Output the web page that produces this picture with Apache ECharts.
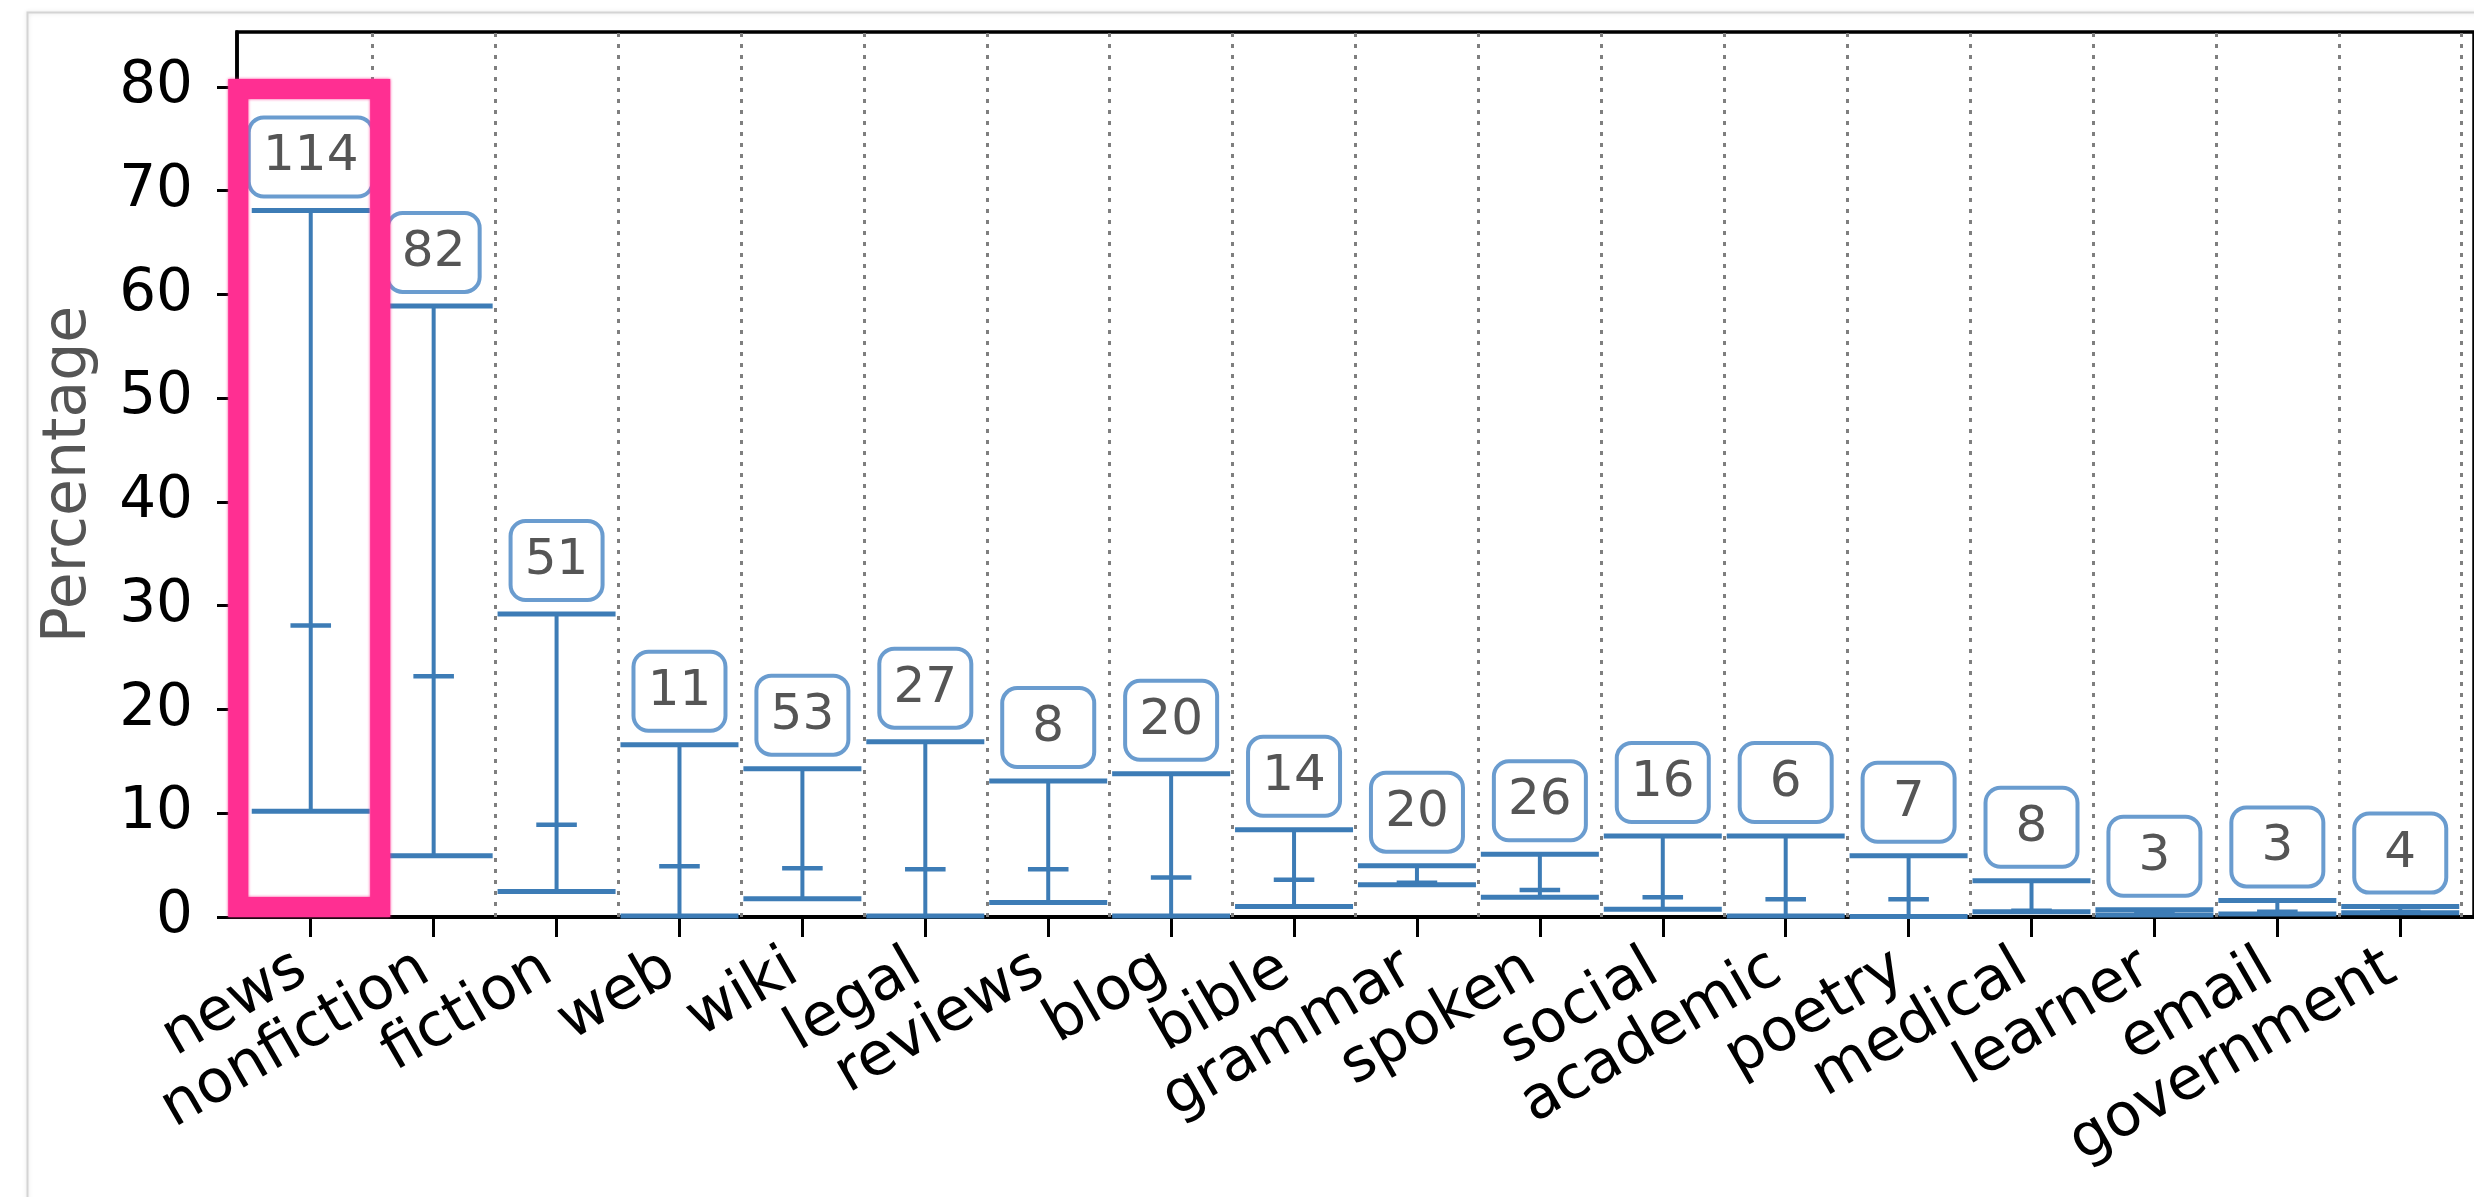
<!DOCTYPE html>
<html>
<head>
<meta charset="utf-8">
<title>Percentage range per genre</title>
<script src="https://cdn.jsdelivr.net/npm/echarts@6/dist/echarts.min.js"></script>
<style>
  html, body { margin: 0; padding: 0; background: #ffffff; }
  #chart { width: 2474px; height: 1197px; }
</style>
</head>
<body>
<div id="chart"></div>
<script>
// Genres along the x axis
const categories = ['news', 'nonfiction', 'fiction', 'web', 'wiki', 'legal', 'reviews', 'blog', 'bible',
  'grammar', 'spoken', 'social', 'academic', 'poetry', 'medical', 'learner', 'email', 'government'];
// Upper extreme, middle value and lower extreme (percent) for each genre
const maxValues = [68.1, 58.9, 29.2, 16.6, 14.3, 16.9, 13.1, 13.8, 8.4, 4.95, 6.05, 7.8, 7.8, 5.9, 3.5, 0.7, 1.6, 1.0];
const midValues = [28.1, 23.2, 8.9, 4.9, 4.7, 4.6, 4.6, 3.8, 3.6, 3.3, 2.6, 1.9, 1.7, 1.7, 0.6, 0.4, 0.5, 0.5];
const minValues = [10.2, 5.9, 2.45, 0.1, 1.75, 0.1, 1.4, 0.1, 1.0, 3.1, 1.9, 0.75, 0.1, 0.05, 0.5, 0.2, 0.3, 0.4];
// Number of samples per genre, shown in the boxes
const counts = [114, 82, 51, 11, 53, 27, 8, 20, 14, 20, 26, 16, 6, 7, 8, 3, 3, 4];
// Y axis tick values
const yTicks = [0, 10, 20, 30, 40, 50, 60, 70, 80];
// Genre that is circled
const highlightedCategory = 'news';

const categoryIndex = categories.map((_, i) => i);
const boundaries = categories.map((_, i) => i + 0.5);
const rows = categories.map((c, i) => [i, maxValues[i], midValues[i], minValues[i], counts[i]]);
const hi = categories.indexOf(highlightedCategory);

const FONT = 'DejaVu Sans';
const RANGE_COLOR = '#3d7cb6';

const chart = echarts.init(document.getElementById('chart'), null, { renderer: 'canvas' });

chart.setOption({
  animation: false,
  backgroundColor: '#ffffff',
  graphic: [{
    type: 'rect',
    left: 25, top: 10,
    shape: { width: 2600, height: 1300 },
    style: { fill: 'none', stroke: '#d4d4d4', lineWidth: 2, shadowBlur: 4, shadowColor: 'rgba(0,0,0,0.12)' },
    silent: true, z: -10
  }],
  grid: {
    left: 237, top: 32, right: -23, bottom: 280,
    show: true, borderColor: '#000', borderWidth: 3.5, backgroundColor: 'transparent'
  },
  xAxis: {
    type: 'value', min: -0.6, max: 17.6,
    axisLine: { show: true, onZero: false, lineStyle: { color: '#000', width: 4 } },
    axisTick: { show: true, customValues: categoryIndex, length: 20, lineStyle: { color: '#000', width: 3 } },
    axisLabel: {
      customValues: categoryIndex,
      formatter: v => categories[Math.round(v)] || '',
      rotate: 30, fontSize: 60, fontFamily: FONT, color: '#000', margin: 43,
      padding: [0, 10, 0, 0]
    },
    splitLine: { show: false }
  },
  yAxis: {
    type: 'value', min: 0, max: 85.3,
    name: 'Percentage', nameLocation: 'middle', nameGap: 138,
    nameTextStyle: { fontSize: 60, color: '#555', fontFamily: FONT },
    axisLine: { show: true, onZero: false, lineStyle: { color: '#000', width: 3.5 } },
    axisTick: { show: true, customValues: yTicks, length: 20, lineStyle: { color: '#000', width: 3 } },
    axisLabel: { customValues: yTicks, fontSize: 58, fontFamily: FONT, color: '#000', margin: 44 },
    splitLine: { show: false }
  },
  series: [
    {
      // dotted separators between genres
      type: 'line', data: [], silent: true,
      markLine: {
        silent: true, symbol: 'none', z: 1,
        label: { show: false },
        lineStyle: { type: [4, 7], color: '#7f7f7f', width: 3 },
        data: boundaries.map(b => ({ xAxis: b }))
      }
    },
    {
      type: 'custom', name: 'range', z: 3,
      data: rows,
      renderItem: function (params, api) {
        const i = api.value(0);
        const top = api.coord([i, api.value(1)]);
        const mid = api.coord([i, api.value(2)]);
        const bot = api.coord([i, api.value(3)]);
        const band = api.size([1, 0])[0];
        const capHalf = band * 0.48;
        const midHalf = band * 0.165;
        const label = String(api.value(4));
        return {
          type: 'group',
          children: [
            { type: 'line', shape: { x1: top[0], y1: top[1], x2: bot[0], y2: bot[1] },
              style: { stroke: RANGE_COLOR, lineWidth: 4 } },
            { type: 'line', shape: { x1: top[0] - capHalf, y1: top[1], x2: top[0] + capHalf, y2: top[1] },
              style: { stroke: RANGE_COLOR, lineWidth: 5 } },
            { type: 'line', shape: { x1: bot[0] - capHalf, y1: bot[1], x2: bot[0] + capHalf, y2: bot[1] },
              style: { stroke: RANGE_COLOR, lineWidth: 5 } },
            { type: 'line', shape: { x1: mid[0] - midHalf, y1: mid[1], x2: mid[0] + midHalf, y2: mid[1] },
              style: { stroke: RANGE_COLOR, lineWidth: 4.5 } },
            { type: 'text', x: top[0], y: top[1] - 16,
              style: {
                text: label, fill: '#555', fontSize: 50, fontFamily: FONT,
                align: 'center', verticalAlign: 'bottom',
                width: label.length > 2 ? 92 : 60, lineHeight: 58,
                backgroundColor: '#fff', borderColor: '#6a9ccf', borderWidth: 4, borderRadius: 13,
                padding: [9, 14, 8, 14]
              } }
          ]
        };
      }
    },
    {
      // hand-drawn style circle around the highlighted genre
      type: 'line', data: [], silent: true,
      markArea: {
        silent: true, z: 20,
        label: { show: false },
        itemStyle: { color: 'rgba(0,0,0,0)', borderColor: '#ff2f92', borderWidth: 20,
          shadowBlur: 3, shadowColor: '#ff2f92' },
        data: [[{ xAxis: hi - 0.59, yAxis: 79.8 }, { xAxis: hi + 0.565, yAxis: 0.96 }]]
      }
    }
  ]
});
</script>
</body>
</html>
